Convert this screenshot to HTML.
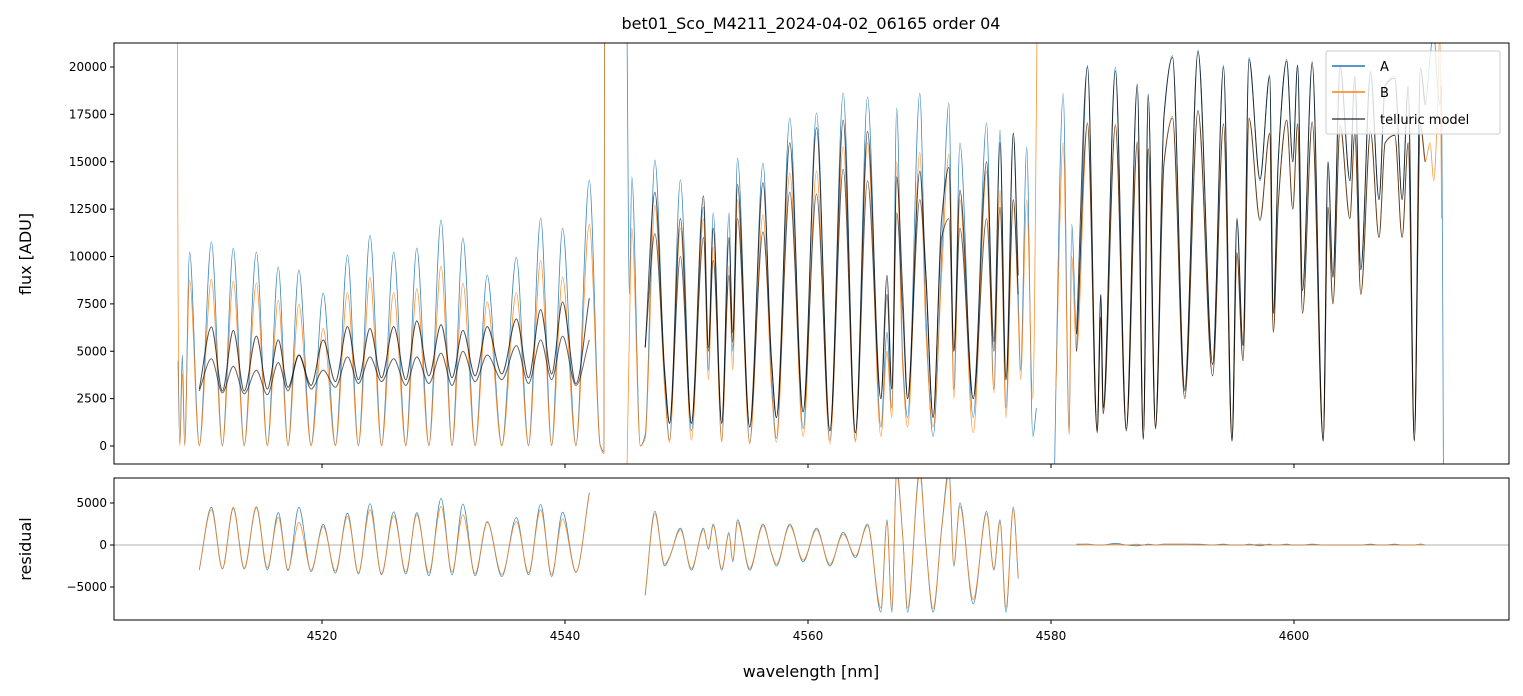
<!DOCTYPE html>
<html><head><meta charset="utf-8"><style>
html,body{margin:0;padding:0;background:#fff;}
svg{display:block;font-family:"DejaVu Sans","Liberation Sans",sans-serif;}
</style></head><body>
<svg id="chart" width="1523" height="696" viewBox="0 0 1523 696">
<defs>
<clipPath id="clipTop"><rect x="114" y="43" width="1395" height="421"/></clipPath>
<clipPath id="clipBot"><rect x="114" y="478" width="1395" height="142"/></clipPath>
</defs>
<rect x="0" y="0" width="1523" height="696" fill="#fff"/>
<text x="811" y="29" text-anchor="middle" font-size="16" fill="#000">bet01_Sco_M4211_2024-04-02_06165  order 04</text>
<g id="topMarks" clip-path="url(#clipTop)"></g>
<g id="botMarks" clip-path="url(#clipBot)"></g>
<rect x="114" y="43" width="1395" height="421" fill="none" stroke="#000" stroke-width="1"/>
<rect x="114" y="478" width="1395" height="142" fill="none" stroke="#000" stroke-width="1"/>
<g id="axes"></g>
<text transform="translate(31,254) rotate(-90)" text-anchor="middle" font-size="16">flux [ADU]</text>
<text transform="translate(31,549) rotate(-90)" text-anchor="middle" font-size="16">residual</text>
<text x="811" y="677" text-anchor="middle" font-size="16">wavelength [nm]</text>
<g>
<rect x="1326" y="51" width="174" height="83" fill="#fff" fill-opacity="0.8" stroke="#ccc" stroke-width="1" rx="2"/>
<line x1="1332" y1="66" x2="1365" y2="66" stroke="#1f77b4" stroke-width="1.5"/>
<text x="1380" y="71" font-size="13">A</text>
<line x1="1332" y1="92" x2="1365" y2="92" stroke="#ff7f0e" stroke-width="1.5"/>
<text x="1380" y="97" font-size="13">B</text>
<line x1="1332" y1="119" x2="1365" y2="119" stroke="#000" stroke-opacity="0.7" stroke-width="1.5"/>
<text x="1380" y="124" font-size="13">telluric model</text>
</g>
</svg>
<script>
var N = NaN;
var wavelength = [4508.1,4508.15,4508.3,4508.5,4508.7,4509.1,4509.9,4510.9,4511.8,4512.7,4513.6,4514.6,4515.5,4516.4,4517.2,4518.1,4519.1,4520.1,4521.1,4522.1,4523.0,4523.95,4524.9,4525.9,4526.9,4527.8,4528.8,4529.8,4530.7,4531.6,4532.6,4533.6,4534.8,4536.0,4537.0,4538.0,4538.9,4539.8,4540.9,4542.0,4542.9,4543.2,4543.25,4544.0,
4545.1,4545.3,4545.5,4546.2,4546.6,4547.4,4548.2,4548.6,4549.5,4550.4,4551.4,4551.8,4552.2,4552.9,4553.5,4553.8,4554.2,4555.2,4556.3,4557.0,4557.4,4558.5,4559.6,4560.7,4561.8,4562.9,4563.9,4564.9,4566.0,4566.5,4566.9,4567.3,4567.8,4568.2,4569.2,4569.7,4570.3,4571.0,4571.6,4572.0,4572.5,4573.6,4574.7,4575.3,4575.8,4576.3,4576.9,4577.3,4577.5,4578.0,4578.5,4578.8,4578.85,4579.5,
4580.3,4580.4,4581.0,4581.5,4581.7,4582.1,4583.0,4583.8,4584.1,4584.3,4585.3,4586.2,4587.1,4587.6,4588.0,4588.6,4589.3,4590.0,4591.0,4592.1,4593.3,4594.2,4594.9,4595.3,4595.8,4596.3,4597.2,4598.0,4598.3,4598.7,4599.4,4599.9,4600.3,4600.7,4601.5,4602.4,4602.8,4603.2,4603.8,4604.6,4605.0,4605.5,4606.3,4607.0,4607.5,4608.3,4608.9,4609.4,4609.9,4610.4,4610.8,4611.2,4611.5,4611.8,4612.0,4612.15,4612.3];
var fluxA = [N,4500,100,4800,100,10240,50,10770,50,10450,50,10240,50,9450,50,9290,50,8070,50,10080,50,11130,50,10240,50,10450,50,11930,50,10980,50,9020,50,9970,50,12030,50,11500,50,14040,50,-300,22000,N,
22000,8000,14200,0,600,15090,3500,300,14040,800,12610,4000,12300,300,12300,5000,15200,200,14930,3500,400,17310,900,17570,300,18630,300,18420,1000,6000,2000,17840,4500,1500,18630,7000,500,10000,18100,3000,15990,1500,17050,3000,16680,2000,16520,8000,4000,15780,500,2000,N,N,
-1200,3000,18600,700,11700,6000,20100,800,8000,2000,20000,900,19000,400,18600,1000,17500,20600,3000,20900,4300,20100,300,12000,5300,20500,14000,19600,7000,15000,20400,15000,20100,8200,20300,300,15000,8900,20000,14000,19500,9300,19800,13000,19000,19500,13000,19000,300,20000,18000,20500,22000,19000,18000,19000,-1200];
var fluxB = [22000,9000,0,3800,0,8760,0,8800,0,8700,0,8600,0,7700,0,7500,0,6200,0,8100,0,8900,0,8100,0,8300,0,9500,0,8600,0,7600,0,8100,0,9800,0,8900,0,11700,0,-400,22000,N,
-1200,6000,11500,0,400,12700,3000,200,11500,300,12000,3500,10500,200,9500,4000,13000,100,12200,3000,200,14400,500,14500,100,15800,200,16000,500,5000,1500,15000,4000,1000,15500,6000,1000,9000,15400,2500,13000,700,14500,2800,13500,1500,13000,7000,3500,13000,2500,18000,22000,N,
N,3000,16000,600,10000,5000,17100,700,6800,1700,17000,800,16100,350,15700,900,15000,17400,2600,17700,3700,17000,250,10200,4500,17300,12000,16500,6000,12700,17200,12500,17000,7000,17100,250,12600,7500,16900,12000,16500,8000,16600,11000,16000,16400,11000,16000,250,17000,15000,16000,14000,17500,22000,12000,N];
var modelA = [N,N,N,N,N,N,3000,6280,2900,6100,2900,5800,3000,5600,3100,4800,3200,5600,3400,6300,3500,6200,3600,6300,3500,6600,3700,6400,3600,6100,3700,6300,3800,6700,3600,7200,3800,7600,3300,7800,N,N,N,N,
N,N,N,N,5200,13400,4000,1200,12000,1200,13200,5200,11500,1200,11000,6000,13800,1000,13900,4500,1500,16000,1800,16800,800,17200,700,16600,2500,9000,3000,14200,8000,2500,14500,9000,1500,12000,14700,5000,13500,2500,15000,5500,16000,3500,16500,9000,N,N,N,N,N,N,
N,N,N,N,N,5900,20000,800,8000,2000,19800,900,19100,400,18500,1000,17400,20500,2900,20800,4300,20000,300,12000,5300,20400,14100,19500,7000,15000,20300,15000,20100,8200,20200,300,15000,8900,20000,14000,19500,9300,19700,13000,19000,19400,13000,19000,300,19900,18000,N,N,N,N,N,N];
var modelB = [N,N,N,N,N,N,2900,4600,2800,4200,2750,4000,2700,4400,2900,4800,3000,4000,3100,4700,3300,4700,3400,4600,3200,4700,3300,4900,3200,5000,3400,4800,3500,5300,3300,5600,3500,5800,3200,5600,N,N,N,N,
N,N,N,N,5200,11200,3800,1200,10000,1200,11000,5000,9800,1200,9000,5500,12000,1000,11300,4500,1500,13400,1800,13300,800,14600,700,14000,2500,8000,3000,12300,7000,2500,13000,9000,1500,11000,12000,5000,11500,2500,12000,5000,12600,3500,13000,8000,N,N,N,N,N,N,
N,N,N,N,N,5000,17000,700,6800,1700,16900,800,16000,350,15700,900,14900,17300,2500,17700,3700,17000,250,10200,4500,17300,11900,16500,6000,12700,17200,12500,17000,7000,17100,250,12600,7500,16900,12000,16500,8000,16600,11000,16000,16400,11000,16000,250,16900,15000,N,N,N,N,N,N];
// measured residuals for the middle chunk (model misaligned there)
var residWl2 = [4546.6,4547.4,4548.2,4548.6,4549.5,4550.4,4551.4,4551.8,4552.2,4552.9,4553.5,4553.8,4554.2,4555.2,4556.3,4557.0,4557.4,4558.5,4559.6,4560.7,4561.8,4562.9,4563.9,4564.9,4566.0,4566.5,4566.9,4567.3,4567.8,4568.2,4569.2,4569.7,4570.3,4571.0,4571.6,4572.0,4572.5,4573.6,4574.7,4575.3,4575.8,4576.3,4576.9,4577.3];
var residA2 = [-6000,4000,-2500,-1500,2000,-3000,2000,-500,2500,-3000,1500,-2000,3000,-3000,2500,-1000,-2500,2500,-2000,2000,-2500,1500,-1500,2500,-8000,3000,-8000,9000,1000,-8000,9000,0,-8000,2000,9000,-2500,5000,-7000,4000,-3000,3000,-8000,4500,-4000];
var residB2 = [-5800,3700,-2300,-1400,1800,-2800,1800,-400,2300,-2800,1300,-1800,2700,-2800,2300,-900,-2300,2300,-1800,1800,-2300,1300,-1300,2300,-7500,2700,-7600,8500,900,-7500,8500,0,-7600,1800,8400,-2300,4600,-6500,3700,-2800,2700,-7400,4200,-3600];
var fluxTicks = [0,2500,5000,7500,10000,12500,15000,17500,20000];
var fluxTickLabels = ["0","2500","5000","7500","10000","12500","15000","17500","20000"];
var residTicks = [-5000,0,5000];
var residTickLabels = ["\u22125000","0","5000"];
var wlTicks = [4520,4540,4560,4580,4600];
var wlTickLabels = ["4520","4540","4560","4580","4600"];

var SVGNS = "http://www.w3.org/2000/svg";
function xScale(w){ return 322 + (w - 4520) * 12.15; }
function yTop(v){ return 446 - v * 0.01895; }
function yBot(v){ return 545 - v * 0.0084; }

// monotone cubic (Fritsch-Carlson) path, NaN breaks the line
function smoothPath(xs, ys){
  var d = "", run = [];
  function flush(){
    var n = run.length;
    if (n === 0) return;
    d += "M" + run[0][0].toFixed(1) + "," + run[0][1].toFixed(1);
    if (n === 1) { run = []; return; }
    var dx = [], m = [], t = [];
    for (var i = 0; i < n - 1; i++){
      dx[i] = run[i+1][0] - run[i][0];
      m[i] = dx[i] === 0 ? 0 : (run[i+1][1] - run[i][1]) / dx[i];
    }
    t[0] = m[0]; t[n-1] = m[n-2];
    for (var i = 1; i < n - 1; i++){
      if (m[i-1] * m[i] <= 0) t[i] = 0;
      else {
        var w1 = 2*dx[i] + dx[i-1], w2 = dx[i] + 2*dx[i-1];
        t[i] = (w1 + w2) / (w1 / m[i-1] + w2 / m[i]);
      }
    }
    for (var i = 0; i < n - 1; i++){
      var h = dx[i] / 3;
      d += "C" + (run[i][0]+h).toFixed(1) + "," + (run[i][1]+t[i]*h).toFixed(1) + " " +
           (run[i+1][0]-h).toFixed(1) + "," + (run[i+1][1]-t[i+1]*h).toFixed(1) + " " +
           run[i+1][0].toFixed(1) + "," + run[i+1][1].toFixed(1);
    }
    run = [];
  }
  for (var i = 0; i < xs.length; i++){
    if (isNaN(ys[i])) { flush(); continue; }
    run.push([xs[i], ys[i]]);
  }
  flush();
  return d;
}
function addPath(g, d, color, width, opacity){
  var p = document.createElementNS(SVGNS, "path");
  p.setAttribute("d", d);
  p.setAttribute("fill", "none");
  p.setAttribute("stroke", color);
  p.setAttribute("stroke-width", width);
  p.setAttribute("stroke-opacity", opacity);
  p.setAttribute("stroke-linejoin", "round");
  g.appendChild(p);
  return p;
}
var topG = document.getElementById("topMarks");
var botG = document.getElementById("botMarks");
var xs = wavelength.map(xScale);

var pA = addPath(topG, smoothPath(xs, fluxA.map(yTop)), "#1f77b4", 0.8, 0.85);


var pB = addPath(topG, smoothPath(xs, fluxB.map(yTop)), "#ff7f0e", 0.8, 0.85);


var pMA = addPath(topG, smoothPath(xs, modelA.map(yTop)), "#000", 1.0, 0.7);


var pMB = addPath(topG, smoothPath(xs, modelB.map(yTop)), "#000", 1.0, 0.6);



var w2min = residWl2[0], w2max = residWl2[residWl2.length-1];
var resA = fluxA.map(function(v,i){ var w = wavelength[i]; return (w >= w2min && w <= w2max) ? NaN : v - modelA[i]; });
var resB = fluxB.map(function(v,i){ var w = wavelength[i]; return (w >= w2min && w <= w2max) ? NaN : v - modelB[i]; });
var zl = document.createElementNS(SVGNS, "line");
zl.setAttribute("x1", 114); zl.setAttribute("x2", 1509);
zl.setAttribute("y1", yBot(0)); zl.setAttribute("y2", yBot(0));
zl.setAttribute("stroke", "#000"); zl.setAttribute("stroke-width", 0.6); zl.setAttribute("stroke-opacity", 0.6);


botG.appendChild(zl);
var xs2 = residWl2.map(xScale);
var rA = addPath(botG, smoothPath(xs, resA.map(yBot)) + smoothPath(xs2, residA2.map(yBot)), "#1f77b4", 0.8, 0.85);


var rB = addPath(botG, smoothPath(xs, resB.map(yBot)) + smoothPath(xs2, residB2.map(yBot)), "#ff7f0e", 0.8, 0.85);



var axesG = document.getElementById("axes");
function addLine(x1,y1,x2,y2){
  var l = document.createElementNS(SVGNS, "line");
  l.setAttribute("x1",x1); l.setAttribute("y1",y1); l.setAttribute("x2",x2); l.setAttribute("y2",y2);
  l.setAttribute("stroke","#000"); l.setAttribute("stroke-width",1);
  axesG.appendChild(l); return l;
}
function addText(x,y,s,anchor){
  var t = document.createElementNS(SVGNS, "text");
  t.setAttribute("x",x); t.setAttribute("y",y); t.setAttribute("text-anchor",anchor);
  t.setAttribute("font-size","12"); t.textContent = s;
  axesG.appendChild(t); return t;
}
fluxTicks.forEach(function(v,i){
  var y = yTop(v);
  var tk = addLine(110,y,114,y);
  
  
  var tl = addText(107,y+4,fluxTickLabels[i],"end");
  
  
});
residTicks.forEach(function(v,i){
  var y = yBot(v);
  var tk = addLine(110,y,114,y);
  
  
  var tl = addText(107,y+4,residTickLabels[i],"end");
  
  
});
wlTicks.forEach(function(v,i){
  var x = xScale(v);
  var t1 = addLine(x,464,x,468);
  
  
  var t2 = addLine(x,620,x,624);
  
  
  var tl = addText(x,640,wlTickLabels[i],"middle");
  
  
});
</script>
</body></html>
